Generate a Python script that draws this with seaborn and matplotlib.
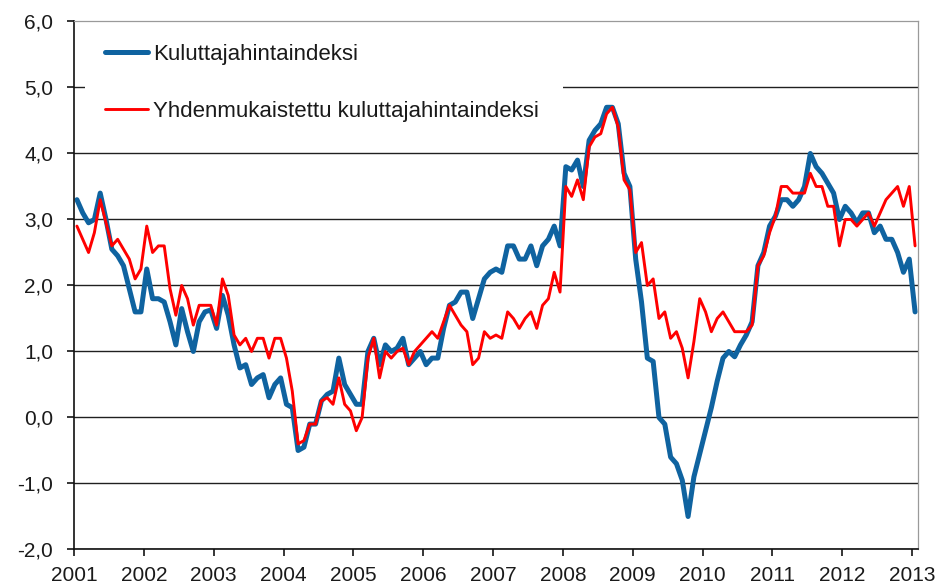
import numpy as np
import pandas as pd
import matplotlib
matplotlib.use('Agg')
import matplotlib.pyplot as plt
import seaborn as sns
from matplotlib.ticker import FuncFormatter

# Vuosimuutos, % — kuukausittain 1/2001 ... 1/2013
kuluttajahinta = [
    3.3, 3.1, 2.95, 3.0, 3.4, 3.0, 2.55, 2.45, 2.3, 1.95, 1.6, 1.6,      # 2001
    2.25, 1.8, 1.8, 1.75, 1.45, 1.1, 1.65, 1.3, 1.0, 1.45, 1.6, 1.63,    # 2002
    1.35, 1.85, 1.55, 1.1, 0.75, 0.8, 0.5, 0.6, 0.65, 0.3, 0.5, 0.6,     # 2003
    0.2, 0.15, -0.5, -0.45, -0.1, -0.1, 0.25, 0.35, 0.4, 0.9, 0.5, 0.35, # 2004
    0.2, 0.2, 1.0, 1.2, 0.8, 1.1, 1.0, 1.05, 1.2, 0.8, 0.9, 1.0,         # 2005
    0.8, 0.9, 0.9, 1.35, 1.7, 1.75, 1.9, 1.9, 1.5, 1.8, 2.1, 2.2,        # 2006
    2.25, 2.2, 2.6, 2.6, 2.4, 2.4, 2.6, 2.3, 2.6, 2.7, 2.9, 2.6,         # 2007
    3.8, 3.75, 3.9, 3.5, 4.2, 4.35, 4.45, 4.7, 4.7, 4.45, 3.7, 3.5,      # 2008
    2.4, 1.75, 0.9, 0.85, 0.0, -0.1, -0.6, -0.7, -0.95, -1.5, -0.9, -0.55,  # 2009
    -0.2, 0.15, 0.55, 0.9, 1.0, 0.92, 1.1, 1.25, 1.45, 2.3, 2.5, 2.9,    # 2010
    3.05, 3.3, 3.3, 3.2, 3.3, 3.5, 4.0, 3.8, 3.7, 3.55, 3.4, 3.0,        # 2011
    3.2, 3.1, 2.95, 3.1, 3.1, 2.8, 2.9, 2.7, 2.7, 2.5, 2.2, 2.4,         # 2012
    1.6,                                                                 # 2013
]

yhdenmukaistettu = [
    2.9, 2.7, 2.5, 2.8, 3.3, 2.95, 2.6, 2.7, 2.55, 2.4, 2.1, 2.25,       # 2001
    2.9, 2.5, 2.6, 2.6, 1.95, 1.55, 2.0, 1.8, 1.4, 1.7, 1.7, 1.7,        # 2002
    1.4, 2.1, 1.85, 1.25, 1.1, 1.2, 1.0, 1.2, 1.2, 0.9, 1.2, 1.2,        # 2003
    0.9, 0.4, -0.4, -0.35, -0.1, -0.1, 0.25, 0.3, 0.2, 0.6, 0.2, 0.1,    # 2004
    -0.2, 0.0, 0.9, 1.2, 0.6, 1.0, 0.9, 1.0, 1.05, 0.8, 1.0, 1.1,        # 2005
    1.2, 1.3, 1.2, 1.45, 1.7, 1.55, 1.4, 1.3, 0.8, 0.9, 1.3, 1.2,        # 2006
    1.25, 1.2, 1.6, 1.5, 1.35, 1.5, 1.6, 1.35, 1.7, 1.8, 2.2, 1.9,       # 2007
    3.5, 3.35, 3.6, 3.3, 4.1, 4.25, 4.3, 4.6, 4.7, 4.4, 3.6, 3.45,       # 2008
    2.5, 2.65, 2.0, 2.1, 1.5, 1.6, 1.2, 1.3, 1.05, 0.6, 1.15, 1.8,       # 2009
    1.6, 1.3, 1.5, 1.6, 1.45, 1.3, 1.3, 1.3, 1.4, 2.3, 2.45, 2.8,        # 2010
    3.05, 3.5, 3.5, 3.4, 3.4, 3.4, 3.7, 3.5, 3.5, 3.2, 3.2, 2.6,         # 2011
    3.0, 3.0, 2.9, 3.0, 3.1, 2.9, 3.1, 3.3, 3.4, 3.5, 3.2, 3.5,          # 2012
    2.6,                                                                 # 2013
]

vuodet = [str(v) for v in range(2001, 2014)]
sarjat = ['Kuluttajahintaindeksi', 'Yhdenmukaistettu kuluttajahintaindeksi']
varit = {sarjat[0]: '#0f63a0', sarjat[1]: '#ff0000'}
paksuus = {sarjat[0]: 3.6, sarjat[1]: 2.1}

# Pitkä taulukko seabornille (kuukausi keskellä omaa "kategoriaansa")
kk = np.arange(len(kuluttajahinta)) + 0.5
df = pd.concat([
    pd.DataFrame({'kk': kk, 'arvo': kuluttajahinta, 'sarja': sarjat[0]}),
    pd.DataFrame({'kk': kk, 'arvo': yhdenmukaistettu, 'sarja': sarjat[1]}),
])

sns.set_theme(style='white')
plt.rcParams['font.family'] = ['Liberation Sans', 'DejaVu Sans']

fig = plt.figure(figsize=(9.42, 5.88), dpi=100)
ax = fig.add_axes([0.07856, 0.06548, 0.89596, 0.89796])

for s in sarjat:
    sns.lineplot(data=df[df['sarja'] == s], x='kk', y='arvo', color=varit[s],
                 linewidth=paksuus[s], label=s, ax=ax, solid_joinstyle='round')

ax.set_xlim(0, len(kuluttajahinta))
ax.set_ylim(-2, 6)
ax.set_xticks(np.arange(0, len(kuluttajahinta), 12))
ax.set_xticklabels(vuodet)
ax.set_yticks(np.arange(-2, 7, 1))
ax.yaxis.set_major_formatter(FuncFormatter(lambda v, p: f'{v:.1f}'.replace('.', ',')))
ax.set_xlabel('')
ax.set_ylabel('')

ax.tick_params(axis='both', direction='out', length=5, width=1.1, colors='black',
               labelsize=15, labelcolor='#1a1a1a')
ax.tick_params(axis='y', pad=10, left=True)
ax.tick_params(axis='x', pad=7, bottom=True)

ax.yaxis.grid(True, color='#202020', linewidth=1.0)
ax.xaxis.grid(False)
ax.get_ygridlines()[-1].set_visible(False)
ax.set_axisbelow(True)

for k in ['left', 'bottom']:
    ax.spines[k].set_color('#101010')
    ax.spines[k].set_linewidth(1.2)
for k in ['top', 'right']:
    ax.spines[k].set_color('#9a9a9a')
    ax.spines[k].set_linewidth(0.9)

leg = ax.legend(loc='upper left', bbox_to_anchor=(0.013, 0.995, 0.566, 0.0),
                mode='expand', borderaxespad=0, borderpad=0.9, labelspacing=1.6,
                handlelength=1.94, handletextpad=0.22, fontsize=16,
                frameon=True, fancybox=False, framealpha=1)
leg.get_frame().set_facecolor('white')
leg.get_frame().set_edgecolor('none')
for t in leg.get_texts():
    t.set_color('#1a1a1a')

fig.savefig('out.png', dpi=100)
